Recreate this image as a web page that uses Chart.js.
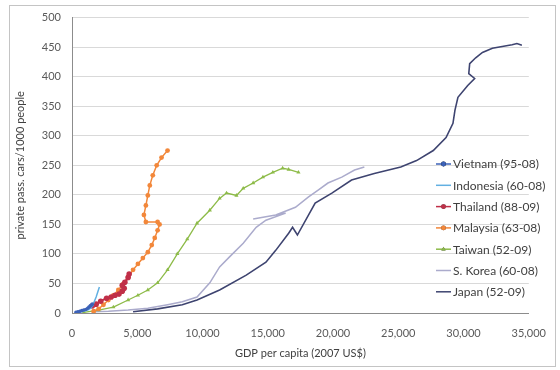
<!DOCTYPE html>
<html>
<head>
<meta charset="utf-8">
<script src="https://cdn.jsdelivr.net/npm/chart.js@4.4.0/dist/chart.umd.min.js"></script>
<style>
  html, body { margin: 0; padding: 0; background: #fff; }
  #wrap { width: 560px; height: 370px; position: relative; }
</style>
</head>
<body>
<div id="wrap"><canvas id="c" width="560" height="370"></canvas></div>
<script>
// ---- data (GDP per capita in 2007 US$, private passenger cars per 1000 people) ----
const seriesNames = ["Vietnam (95-08)", "Indonesia (60-08)", "Thailand (88-09)", "Malaysia (63-08)", "Taiwan (52-09)", "S. Korea (60-08)", "Japan (52-09)"];

const vietnamGDP = [300, 450, 600, 750, 900, 1050, 1200, 1300, 1400, 1480, 1550];
const vietnamCars = [1, 2, 3, 4, 5, 6, 8, 10, 12, 13, 15];

const indonesiaGDP = [500, 850, 1200, 1430, 1600, 1700, 1850, 1980, 2100];
const indonesiaCars = [2, 3, 5, 8, 13, 19, 27, 36, 44];

const thailandGDP = [1550, 1850, 2200, 2650, 3000, 3300, 3600, 3850, 4000, 3850, 4050, 4300, 4380];
const thailandCars = [12, 15, 20, 25, 27, 30, 32, 37, 42, 47, 52, 60, 66];

const malaysiaGDP = [1660, 2040, 2410, 2790, 3170, 3550, 3920, 4300, 4680, 5050, 5430, 5810, 6110, 6340, 6560, 6710, 6560, 5660, 5510, 5660, 5810, 5960, 6190, 6490, 6860, 7320];
const malaysiaCars = [3, 7, 14, 22, 30, 39, 49, 61, 73, 83, 93, 103, 115, 127, 140, 150, 154, 154, 166, 182, 199, 216, 233, 250, 263, 275];

const taiwanGDP = [900, 2040, 3170, 4300, 5050, 5810, 6560, 7320, 8070, 8830, 9580, 10560, 11310, 11840, 12600, 13120, 13880, 14630, 15390, 16140, 16600, 17350];
const taiwanCars = [1, 5, 10, 22, 30, 39, 51, 73, 100, 125, 152, 174, 194, 203, 199, 211, 220, 230, 238, 245, 243, 238];

const koreaGDP = [1510, 2790, 4300, 5810, 7320, 8450, 9580, 10560, 11310, 12070, 13120, 14110, 14860, 16370, 13880, 15610, 17120, 18100, 18860, 19610, 20670, 21650, 22400];
const koreaCars = [2, 3, 5, 8, 14, 19, 27, 51, 78, 95, 118, 145, 157, 169, 159, 166, 179, 196, 208, 220, 230, 242, 247];

const japanGDP = [4680, 6560, 8450, 9580, 11310, 13350, 14860, 15610, 16600, 16900, 17270, 18630, 19910, 21420, 23160, 25190, 26400, 27680, 28660, 29190, 29340, 29570, 30320, 30850, 30400, 30470, 30930, 31450, 32210, 32960, 33720, 34090, 34470];
const japanCars = [2, 7, 14, 22, 39, 64, 86, 106, 135, 145, 132, 186, 203, 225, 236, 247, 258, 275, 297, 321, 343, 365, 385, 397, 405, 422, 432, 441, 448, 451, 454, 456, 453];

const xTicks = [0, 5000, 10000, 15000, 20000, 25000, 30000, 35000];
const yTicks = [0, 50, 100, 150, 200, 250, 300, 350, 400, 450, 500];

function pts(xs, ys) { return xs.map((x, i) => ({ x: x, y: ys[i] })); }

const styles = [
  { color: '#3c62b8', radius: 1.8, style: 'circle', width: 1.5 },
  { color: '#62b0e2', radius: 0, style: 'circle', width: 1.5 },
  { color: '#c02f48', radius: 2.8, style: 'circle', width: 2 },
  { color: '#f2873a', radius: 2.4, style: 'circle', width: 1.5 },
  { color: '#8dbb48', radius: 2.4, style: 'triangle', width: 1.3 },
  { color: '#ababcc', radius: 0, style: 'circle', width: 1.5 },
  { color: '#3e4470', radius: 0, style: 'circle', width: 1.6 }
];
const allData = [
  pts(vietnamGDP, vietnamCars),
  pts(indonesiaGDP, indonesiaCars),
  pts(thailandGDP, thailandCars),
  pts(malaysiaGDP, malaysiaCars),
  pts(taiwanGDP, taiwanCars),
  pts(koreaGDP, koreaCars),
  pts(japanGDP, japanCars)
];

const datasets = seriesNames.map((name, i) => ({
  label: name,
  data: allData[i],
  showLine: true,
  borderColor: styles[i].color,
  backgroundColor: styles[i].color,
  borderWidth: styles[i].width,
  pointRadius: styles[i].radius,
  pointHoverRadius: styles[i].radius,
  pointStyle: styles[i].style,
  pointBorderWidth: 0,
  tension: 0
}));

const FONT = 'Lato, "Open Sans", sans-serif';

const framePlugin = {
  id: 'frame',
  beforeDraw(chart) {
    const ctx = chart.ctx;
    ctx.save();
    ctx.fillStyle = '#ffffff';
    ctx.fillRect(0, 0, chart.width, chart.height);
    ctx.strokeStyle = '#c4c4c4';
    ctx.lineWidth = 1;
    ctx.strokeRect(9.5, 5.5, 546, 361);
    ctx.restore();
  }
};

const legendPlugin = {
  id: 'customLegend',
  afterDatasetsDraw(chart) {
    const ctx = chart.ctx;
    ctx.save();
    chart.data.datasets.forEach((ds, i) => {
      const y = 164 + i * 21.3;
      ctx.strokeStyle = ds.borderColor;
      ctx.lineWidth = 1.5;
      ctx.beginPath();
      ctx.moveTo(436, y);
      ctx.lineTo(451, y);
      ctx.stroke();
      if (ds.pointRadius > 0) {
        Chart.helpers.drawPoint(ctx, { pointStyle: ds.pointStyle, radius: 2.4, borderWidth: 0, rotation: 0 }, 443.5, y);
        ctx.fillStyle = ds.backgroundColor;
        ctx.fill();
      }
      ctx.fillStyle = '#404040';
      ctx.font = '12px ' + FONT;
      ctx.textBaseline = 'middle';
      ctx.textAlign = 'left';
      ctx.fillText(ds.label, 453, y + 0.5);
    });
    ctx.restore();
  }
};

new Chart(document.getElementById('c'), {
  type: 'scatter',
  data: { datasets: datasets },
  options: {
    responsive: false,
    animation: false,
    devicePixelRatio: 1,
    layout: { padding: { left: 10, right: 20, top: 17, bottom: 6 } },
    plugins: {
      legend: { display: false },
      tooltip: { enabled: false }
    },
    scales: {
      x: {
        type: 'linear',
        min: 0, max: 35000,
        afterBuildTicks: s => { s.ticks = xTicks.map(v => ({ value: v })); },
        afterFit: s => { s.height = 51; },
        grid: { display: false, drawTicks: false },
        border: { display: true, color: '#8c8c8c', width: 1 },
        ticks: {
          padding: 14,
          color: '#595959',
          font: { family: FONT, size: 11 },
          callback: v => v.toLocaleString('en-US')
        },
        title: {
          display: true,
          text: 'GDP per capita (2007 US$)',
          color: '#404040',
          font: { family: FONT, size: 11 },
          padding: { top: 0, bottom: 4 }
        }
      },
      y: {
        type: 'linear',
        min: 0, max: 500,
        afterBuildTicks: s => { s.ticks = yTicks.map(v => ({ value: v })); },
        afterFit: s => { s.width = 62; },
        grid: { color: '#d9d9d9', lineWidth: 1, drawTicks: false },
        border: { display: true, color: '#8c8c8c', width: 1 },
        ticks: {
          padding: 11,
          color: '#595959',
          font: { family: FONT, size: 11 }
        },
        title: {
          display: true,
          text: 'private pass. cars/1000 people',
          color: '#404040',
          font: { family: FONT, size: 11 },
          padding: { top: 4, bottom: 0 }
        }
      }
    }
  },
  plugins: [framePlugin, legendPlugin]
});
</script>
</body>
</html>
